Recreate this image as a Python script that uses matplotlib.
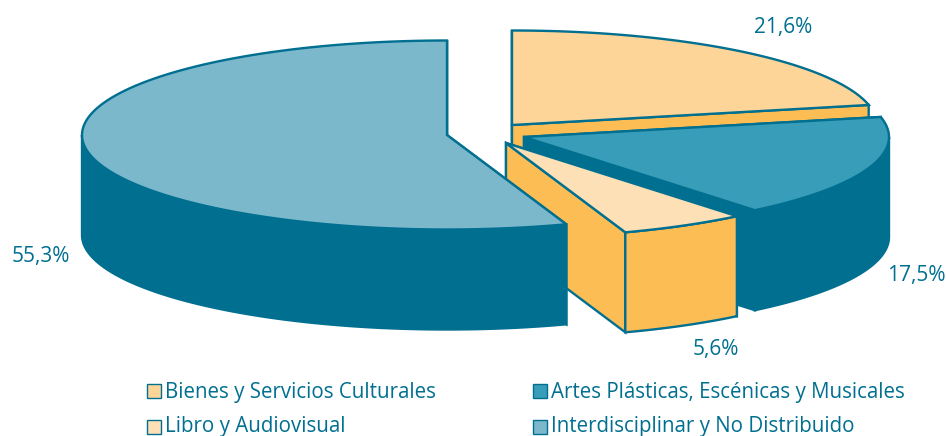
import numpy as np
import matplotlib
matplotlib.use("Agg")
import matplotlib.pyplot as plt
from matplotlib.patches import Polygon, Rectangle

categories = ["Bienes y Servicios Culturales", "Artes Plásticas, Escénicas y Musicales",
              "Libro y Audiovisual", "Interdisciplinar y No Distribuido"]
values = [21.6, 17.5, 5.6, 55.3]
labels = ["21,6%", "17,5%", "5,6%", "55,3%"]

LINE = "#006F90"
LW = 1.7
top_colors = ["#FDD598", "#389DB8", "#FDE0B5", "#7BB8CC"]
side_colors = ["#FDBD55", "#006F90", "#FDBD55", "#006F90"]
# apex of each slice in pixels (the slices are pulled apart)
apex = [(512, 125), (524, 137), (506, 143), (447, 135)]
label_pos = [(783, 28), (916, 275), (716, 349), (41, 256)]
legend_pos = [(147, 391), (533, 391), (147, 427), (533, 427)]
legend_text_y = [392.5, 392.5, 426.5, 426.5]

RX, RY = 365, 94.5
DEPTH = 100
FONT = "Open Sans"


def arc(cx, cy, a0, a1, dy=0):
    t = np.radians(np.linspace(a0, a1, 120))
    return np.column_stack([cx + RX * np.cos(t), cy - RY * np.sin(t) + dy])


def draw_slice(ax, i, a0, a1):
    cx, cy = apex[i]
    rim = arc(cx, cy, a0, a1)

    # radial walls
    for p in (rim[0], rim[-1]):
        wall = [[cx, cy], p, p + [0, DEPTH], [cx, cy + DEPTH]]
        ax.add_patch(Polygon(wall, fc=side_colors[i], ec=LINE, lw=LW, joinstyle="miter"))

    # outer wall, only where the rim is in the lower half of the ellipse
    lo, hi = sorted((a0, a1))
    lo, hi = max(lo, -180), min(hi, 0)
    if hi > lo:
        wall = np.vstack([arc(cx, cy, lo, hi), arc(cx, cy, hi, lo, DEPTH)])
        ax.add_patch(Polygon(wall, fc=side_colors[i], ec=LINE, lw=LW))

    # top face
    ax.add_patch(Polygon(np.vstack([[cx, cy], rim]), fc=top_colors[i], ec=LINE, lw=LW,
                         joinstyle="miter"))


fig = plt.figure(figsize=(9.46, 4.36), dpi=100)
ax = fig.add_axes([0, 0, 1, 1])
ax.set_xlim(0, 946)
ax.set_ylim(436, 0)
ax.axis("off")

# angles run clockwise from 12 o'clock, the big slice closes the circle
edges = 90 - np.cumsum([0] + values) * 3.6

# back to front, the big slice last because it covers the small one
for i in range(4):
    draw_slice(ax, i, edges[i], edges[i + 1])

for lab, (x, y) in zip(labels, label_pos):
    ax.text(x, y, lab, color=LINE, fontsize=15, family=FONT, ha="center", va="center")

for i, (x, y) in enumerate(legend_pos):
    ax.add_patch(Rectangle((x, y - 7), 14, 14, fc=top_colors[i], ec=LINE, lw=1))
    ax.text(x + 18, legend_text_y[i], categories[i], color=LINE, fontsize=14.8, family=FONT, va="center")

fig.savefig("out.png", dpi=100)
